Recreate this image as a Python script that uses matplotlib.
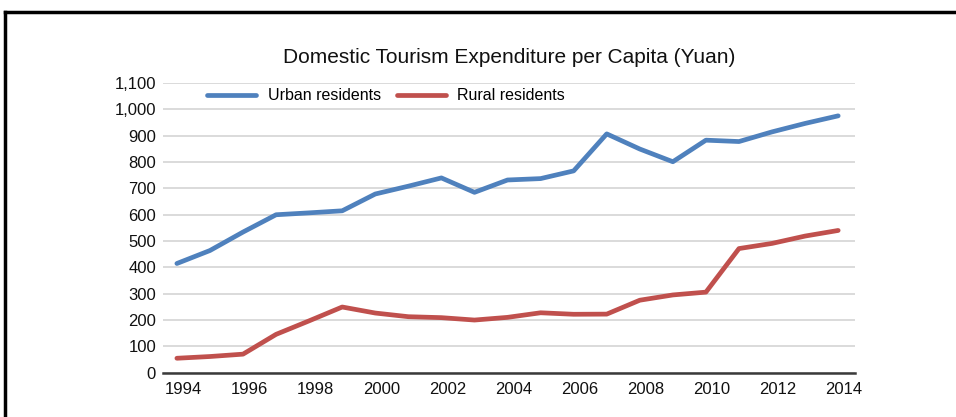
import numpy as np
import matplotlib
matplotlib.use("Agg")
import matplotlib.pyplot as plt
import matplotlib.transforms as mtransforms
from matplotlib.lines import Line2D
from matplotlib.ticker import FuncFormatter, MultipleLocator

plt.rcParams['font.family'] = ['Liberation Sans', 'DejaVu Sans']

# data
years = list(range(1994, 2015))
urban = [414.7, 464.0, 534.1, 599.8, 607.0, 614.8, 678.6, 708.3, 739.7, 684.9, 731.8,
         737.1, 766.4, 906.9, 849.4, 801.1, 883.0, 877.8, 914.5, 946.6, 975.4]
rural = [54.9, 61.5, 70.5, 145.7, 197.0, 249.5, 226.6, 212.7, 209.1, 200.0, 210.2,
         227.6, 221.9, 222.5, 275.3, 295.3, 306.0, 471.4, 491.0, 518.9, 540.2]
series_names = ['Urban residents', 'Rural residents']
title = 'Domestic Tourism Expenditure per Capita (Yuan)'

fig = plt.figure(figsize=(9.56, 4.17), dpi=100)
ax = fig.add_axes([0.1705, 0.1062, 0.7239, 0.6947])

ax.plot(years, urban, color='#4f81bd', lw=3.4, solid_capstyle='round', label=series_names[0])
ax.plot(years, rural, color='#c0504d', lw=3.4, solid_capstyle='round', label=series_names[1])

ax.set_ylim(0, 1100)
ax.set_xlim(1994 - 0.42, 2014 + 0.51)
ax.yaxis.set_major_locator(MultipleLocator(100))
ax.yaxis.set_major_formatter(FuncFormatter(lambda v, p: f'{int(v):,}'))
ax.set_xticks(years[::2])
ax.set_xticklabels([str(y) for y in years[::2]])
ax.grid(axis='y', color='#dadada', lw=1.4)
ax.set_axisbelow(True)
for s in ['left', 'right', 'top']:
    ax.spines[s].set_visible(False)
ax.spines['bottom'].set_color('#3a3a3a')
ax.spines['bottom'].set_linewidth(1.8)
ax.tick_params(length=0, labelsize=12, colors='#111111')
ax.tick_params(axis='y', pad=5)
ax.tick_params(axis='x', pad=7)

shift = mtransforms.ScaledTranslation(0.06, 0, fig.dpi_scale_trans)
for lab in ax.get_xticklabels():
    lab.set_transform(lab.get_transform() + shift)

fig.text(0.5325, 0.863, title, ha='center', va='center', fontsize=15, color='#111111')

ax.legend(loc='center', bbox_to_anchor=(386 / 956, 1 - 96 / 417), bbox_transform=fig.transFigure,
          ncol=2, frameon=False, fontsize=11.5, handlelength=3.1, handletextpad=0.7,
          columnspacing=1.0)

# black frame along top and left edges
fig.add_artist(Line2D([5 / 956, 1], [1 - 11.5 / 417, 1 - 11.5 / 417], color='black', lw=2.5,
                      transform=fig.transFigure))
fig.add_artist(Line2D([5 / 956, 5 / 956], [0, 1 - 11.5 / 417], color='black', lw=2.5,
                      transform=fig.transFigure))

fig.savefig('out.png', dpi=100)
